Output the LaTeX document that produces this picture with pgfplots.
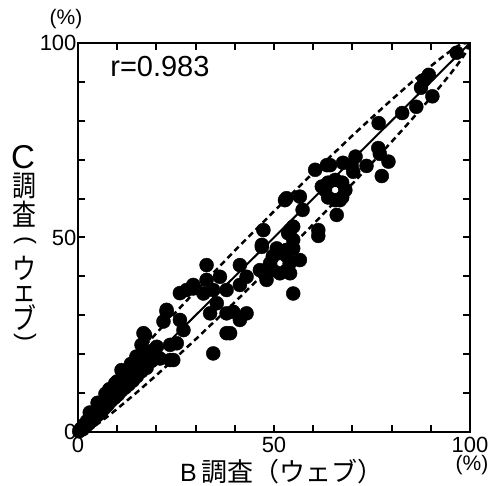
\documentclass[border=0pt]{standalone}
\usepackage{pgfplots}
\pgfplotsset{compat=1.18}
\usepackage{fontspec}
\setmainfont{Liberation Sans}
\newfontfamily\cjk{Noto Sans CJK JP}
\newcommand\vch[1]{\scalebox{0.92}[1.12]{\cjk\fontsize{26}{26}\selectfont #1}}

\begin{document}
\begin{tikzpicture}
\begin{axis}[
  at={(0,0)}, anchor=south west,
  scale only axis, width=392pt, height=389pt,
  xmin=0, xmax=100, ymin=0, ymax=100,
  xtick={0,50,100}, ytick={0,50,100},
  minor xtick={10,20,30,40,60,70,80,90},
  minor ytick={10,20,30,40,60,70,80,90},
  tick align=inside,
  major tick length=7pt, minor tick length=7pt,
  every tick/.style={black, line width=2pt},
  axis line style={line width=2.5pt},
  tick label style={font=\fontsize{22}{22}\selectfont},
  /pgf/number format/assume math mode=true,
  xticklabel style={yshift=-2pt},
  yticklabel style={xshift=2pt},
  clip=true,
]
% lower dashed band
\addplot[black, line width=2.5pt, dash pattern=on 6pt off 4pt] coordinates {
(0,0) (1,-0.34) (2,0.11) (3,0.70) (5,2.06) (7,3.56) (10,5.95) (15,10.18) (20,14.60) (25,19.15) (30,23.81) (40,33.39) (50,43.25) (60,53.39) (70,63.81) (75,69.15) (80,74.60) (85,80.18) (90,85.95) (93,89.56) (95,92.06) (97,94.70) (98,96.11) (99,97.66) (100,100)
};
% upper dashed band
\addplot[black, line width=2.5pt, dash pattern=on 6pt off 4pt] coordinates {
(0,0) (1,2.34) (2,3.89) (3,5.30) (5,7.94) (7,10.44) (10,14.05) (15,19.82) (20,25.40) (25,30.85) (30,36.19) (40,46.61) (50,56.75) (60,66.61) (70,76.19) (75,80.85) (80,85.40) (85,89.82) (90,94.05) (93,96.44) (95,97.94) (97,99.30) (98,99.89) (100,100)
};
% regression line
\addplot[black, line width=2pt] coordinates {(0,0) (100,100)};
% data points
\addplot[only marks, mark=*, mark size=7pt, black] coordinates {
(0.3,0.2) (0.8,0.9) (1.2,0.7) (1.5,1.8) (2,1.5) (2.3,2.8) (2.8,2.2) (3.2,3.8) (3.5,2.9) (4,4.6) (4.3,3.6) (4.8,5.5) (5.2,4.5) (5.6,6.4) (6,5.2) (6.4,7.3) (6.8,6.2) (7.2,8.4) (7.6,7) (8,9.4) (8.4,8) (8.8,10.3) (9.3,8.8) (9.7,11.2) (10.2,9.6) (10.6,12.3) (11,10.6) (11.5,13.5) (12,11.4) (12.4,14.4) (12.9,12.2) (13.4,15.2) (14,13.2) (14.3,16.3) (15,14.3) (15.3,17.2) (16.2,15.6) (17.5,16.5) (17.8,19.5) (18.8,18.3) (19.2,21) (5,7.5) (8,11) (10,13) (3,5) (13.5,17.5) (11.5,15) (7,9.8) (9.5,12.5)
(11.1,15.9) (14.9,19.4) (15.8,17.7) (16.2,22.4) (17.1,24.9) (16.7,25.4) (20.1,21.9) (23.5,22.4) (25.2,22.8) (20.9,18.9) (23.5,18.5) (24.3,18.5)
(22.6,31.4) (22.6,30.9) (21.8,28.4) (26.0,28.8) (26.9,26.2) (29.4,37.8) (27.7,36.5) (26.0,35.7) (29.4,36.9)
(32.0,35.6) (34.5,36.5) (35.4,33.1) (33.7,30.5) (37.9,30.5) (39.6,30.9) (43.0,30.5) (41.3,28.8) (38.8,25.4) (37.9,25.4) (34.5,20.2)
(32.8,42.9) (32.8,39.1) (36.2,39.9) (37.9,36.5) (41.3,37.8) (41.3,42.9) (43.0,39.9) (46.4,41.6) (48.1,39.1)
(49,43.4) (54,43.4) (51.5,46) (51.5,40.8) (49.7,45.2) (53.3,45.2) (49.7,41.6) (53.3,41.6)
(54.1,40.8) (56.6,44.2) (53.2,46.8) (54.9,47.2) (50.7,47.2) (46.9,48.1) (46.9,47.6) (47.3,51.9) (54.9,49.4) (54.1,51.9) (53.6,51.1) (54.9,52.8) (61.3,51.9) (61.3,50.4) (54.9,35.6)
(52.8,59.6) (53.2,60.1) (56.6,60.5) (57.3,57.1) (66.0,55.8)
(63.0,62.2) (68.2,62.2) (65.6,64.8) (65.6,59.6) (63.8,64.1) (67.4,64.1) (63.8,60.3) (67.4,60.3) (62.2,63.1) (66.8,59.6)
(60.5,67.4) (63.5,68.6) (64.3,68.6) (67.6,69.2) (69.8,68.6) (70.8,70.8) (73.6,68.4) (70.2,66.9)
(76.6,73.0) (77.0,71.5) (79.2,69.5) (77.5,65.8) (76.7,79.4)
(82.7,82.0) (86.3,83.6) (87.5,88.5) (88.3,90.5) (89.5,91.8) (90.4,86.3) (96.6,97.5)
};
\node[anchor=base west, inner sep=0pt, font=\fontsize{29}{29}\selectfont] at (axis cs:8.2,91.3) {r=0.983};
\end{axis}
\node[anchor=base, inner sep=0pt, font=\fontsize{21}{21}\selectfont] at (-12pt,407pt) {(\%)};
\node[anchor=base, inner sep=0pt, font=\fontsize{21}{21}\selectfont] at (394pt,-39pt) {(\%)};
\node[anchor=base west, inner sep=0pt, font=\fontsize{25}{25}\selectfont] at (102pt,-50pt) {B\,{\cjk\fontsize{26}{26}\selectfont 調査（ウェブ）}};
% vertical y label
\node[inner sep=0pt, font=\fontsize{33}{33}\selectfont] at (-55pt,275pt) {C};
\node[inner sep=0pt] at (-54pt,246pt) {\vch{調}};
\node[inner sep=0pt] at (-54pt,218pt) {\vch{査}};
\node[inner sep=0pt, rotate=-90, font=\fontsize{24}{24}\selectfont] at (-53pt,191pt) {(};
\node[inner sep=0pt] at (-54pt,164pt) {\vch{ウ}};
\node[inner sep=0pt] at (-54pt,138pt) {\vch{ェ}};
\node[inner sep=0pt] at (-54pt,114pt) {\vch{ブ}};
\node[inner sep=0pt, rotate=-90, font=\fontsize{24}{24}\selectfont] at (-53pt,94pt) {)};
\pgfresetboundingbox
\path (-78pt,-54pt) rectangle (421pt,432pt);
\end{tikzpicture}
\end{document}
